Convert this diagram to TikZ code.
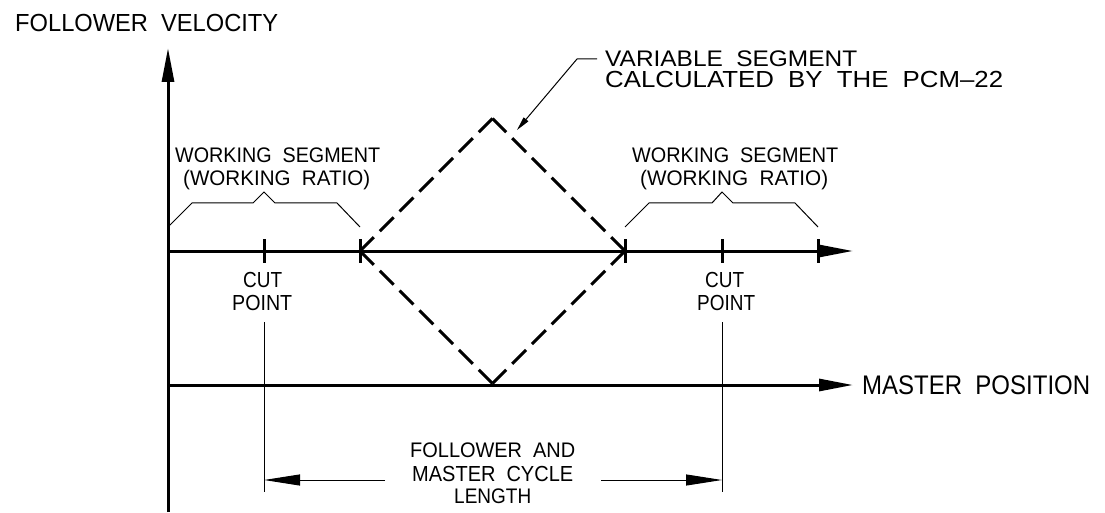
\documentclass[tikz,border=0pt]{standalone}
\usepackage{fontspec}
\setmainfont{Liberation Sans}
\usetikzlibrary{arrows.meta}
% one line of drafting lettering, fitted to a given width and cap height
\newcommand\fitline[3]{\resizebox{#1pt}{#2pt}{\spaceskip=.55em\relax\smash{#3}\vphantom{E}}}

\begin{document}
\begin{tikzpicture}[x=1pt,y=-1pt,
  heavy/.style={line width=3pt},
  thinline/.style={line width=1pt},
  bigtip/.style={-{Triangle[length=34pt,width=12pt]}},
  dimtip/.style={-{Triangle[length=36pt,width=11pt]}},
  leadtip/.style={-{Triangle[length=14pt,width=6pt]}},
  dashside/.style={line width=3pt, dash pattern=on 19.6pt off 8.4pt},
  lbl/.style={inner sep=0pt, anchor=base west}]

\fill[white] (0,0) rectangle (1105,513);
\useasboundingbox (0,0) rectangle (1105,513);

% ---- key points ----
\coordinate (o)    at (168,512);
\coordinate (ytop) at (168,48);
\coordinate (w0)   at (168,251);
\coordinate (wend) at (853,251);
\coordinate (m0)   at (168,385);
\coordinate (mend) at (853,385);

% diamond (variable segment)
\coordinate (vl) at (360,251);
\coordinate (vt) at (492.5,118.5);
\coordinate (vr) at (625,251);
\coordinate (vb) at (492.5,383.5);

% ---- axes ----
\draw[heavy,bigtip] (o) -- (ytop);
\draw[heavy,bigtip] (w0) -- (wend);
\draw[heavy,bigtip] (m0) -- (mend);

% ticks on the working line
\foreach \x/\n in {264/t1,360/t2,625/t3,722/t4,818/t5}{
  \coordinate (\n a) at (\x,239);
  \coordinate (\n b) at (\x,263);
  \draw[heavy] (\n a) -- (\n b);
}

% variable segment
\draw[dashside] (vl) -- (vt);
\draw[dashside] (vr) -- (vt);
\draw[dashside] (vl) -- (vb);
\draw[dashside] (vr) -- (vb);

% ---- working segment braces ----
\coordinate (b1) at (168,227); \coordinate (b2) at (192,203);
\coordinate (b3) at (253,203); \coordinate (b4) at (264,192);
\coordinate (b5) at (275,203); \coordinate (b6) at (337,203);
\coordinate (b7) at (360,227);
\draw[thinline] (b1) -- (b2) -- (b3) -- (b4) -- (b5) -- (b6) -- (b7);

\coordinate (c1) at (625,227); \coordinate (c2) at (649,203);
\coordinate (c3) at (712,203); \coordinate (c4) at (722,192);
\coordinate (c5) at (733,203); \coordinate (c6) at (795,203);
\coordinate (c7) at (818,227);
\draw[thinline] (c1) -- (c2) -- (c3) -- (c4) -- (c5) -- (c6) -- (c7);

% ---- leader to the variable segment ----
\coordinate (ld1) at (597,59);
\coordinate (ld2) at (577,59);
\coordinate (ld3) at (517,130);
\draw[thinline,leadtip] (ld1) -- (ld2) -- (ld3);

% ---- cycle length dimension ----
\coordinate (e1a) at (264,322); \coordinate (e1b) at (264,492);
\coordinate (e2a) at (722,322); \coordinate (e2b) at (722,492);
\draw[thinline] (e1a) -- (e1b);
\draw[thinline] (e2a) -- (e2b);
\coordinate (d1s) at (385,480); \coordinate (d1e) at (264,480);
\coordinate (d2s) at (601,480); \coordinate (d2e) at (722,480);
\draw[thinline,dimtip] (d1s) -- (d1e);
\draw[thinline,dimtip] (d2s) -- (d2e);

% ---- lettering ----
\node[lbl] (fv) at (15,32) {\fitline{263}{17}{FOLLOWER VELOCITY}};
\node[lbl] (mp) at (862,394) {\fitline{228}{18.5}{MASTER POSITION}};

\node[lbl] (var1) at (605,67) {\fitline{252}{15.5}{VARIABLE SEGMENT}};
\node[lbl] (var2) at (605,88) {\fitline{398}{16}{CALCULATED BY THE PCM–22}};

\node[lbl] (wsl1) at (175,163) {\fitline{205}{14.5}{WORKING SEGMENT}};
\node[lbl] (wsl2) at (183,186) {\fitline{187}{14.5}{(WORKING RATIO)}};
\node[lbl] (wsr1) at (632,163) {\fitline{206}{14.5}{WORKING SEGMENT}};
\node[lbl] (wsr2) at (640,186) {\fitline{188}{14.5}{(WORKING RATIO)}};

\node[lbl] (cl1) at (243,287) {\fitline{39}{15}{CUT}};
\node[lbl] (cl2) at (232,310) {\fitline{60}{15}{POINT}};
\node[lbl] (cr1) at (705,287) {\fitline{39}{15}{CUT}};
\node[lbl] (cr2) at (697,310) {\fitline{58}{15}{POINT}};

\node[lbl] (fm1) at (410,457) {\fitline{165}{14.5}{FOLLOWER AND}};
\node[lbl] (fm2) at (412,481) {\fitline{161}{15}{MASTER CYCLE}};
\node[lbl] (fm3) at (454,503) {\fitline{77}{14.5}{LENGTH}};
\end{tikzpicture}
\end{document}
